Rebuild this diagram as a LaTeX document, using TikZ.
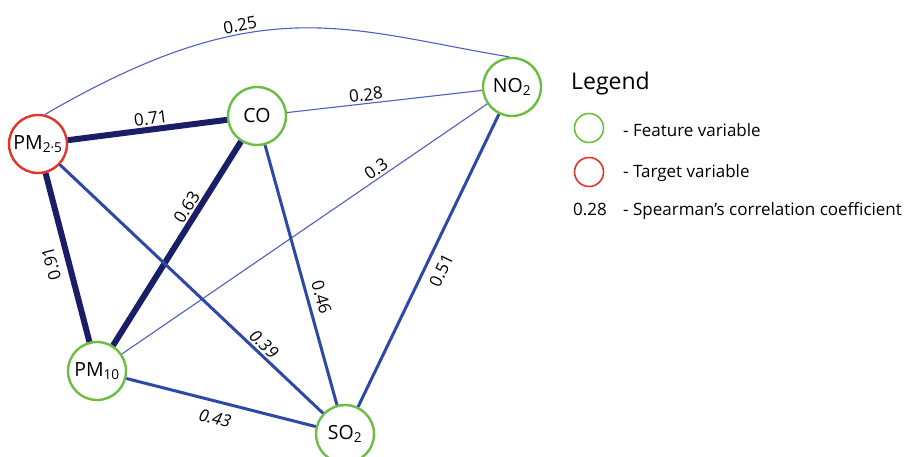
\documentclass[tikz,border=0pt]{standalone}
\usepackage{fontspec}
\setmainfont{Open Sans}
\definecolor{featgreen}{RGB}{108,190,66}
\definecolor{targred}{RGB}{226,52,42}
\definecolor{navyA}{RGB}{26,30,102}
\definecolor{blueB}{RGB}{46,72,168}
\definecolor{blueC}{RGB}{80,94,192}
\begin{document}
\begin{tikzpicture}[x=1pt,y=-1pt,
  var/.style={circle, draw, line width=2.4pt, minimum size=58pt, inner sep=0pt,
    font=\fontsize{19.5}{21}\selectfont},
  feat/.style={var, draw=featgreen},
  targ/.style={var, draw=targred},
  strong/.style={draw=navyA, line width=6pt},
  mid/.style={draw=blueB, line width=3pt},
  weak/.style={draw=blueC, line width=1.1pt},
  lbl/.style={font=\fontsize{17}{19}\selectfont, inner sep=2pt, sloped},
  legtxt/.style={font=\fontsize{17}{19}\selectfont, anchor=base west, inner sep=0pt},
  legcirc/.style={circle, line width=1.6pt, minimum size=29pt, inner sep=0pt}
]
\useasboundingbox (0,0) rectangle (904,457);

% variables
\node[targ] (pm25) at (38,144) {PM\textsubscript{2·5}};
\node[feat] (co)   at (257,116) {CO};
\node[feat] (no2)  at (512,87)  {NO\textsubscript{2}};
\node[feat] (pm10) at (97,371)  {PM\textsubscript{10}};
\node[feat] (so2)  at (345,434) {SO\textsubscript{2}};

% correlations
\draw[strong] (pm25) -- node[lbl, above, pos=0.53] {0.71} (co);
\draw[strong] (pm10) -- node[lbl, above=6pt, pos=0.49, allow upside down] {0.91} (pm25);
\draw[strong] (pm10) -- node[lbl, above, pos=0.65] {0.63} (co);
\draw[weak] (pm25.77) .. controls (262,-12) and (345,29.5) .. node[lbl, above, pos=0.37] {0.25} (no2.95);
\draw[weak] (co) -- node[lbl, above, pos=0.41] {0.28} (no2);
\draw[weak] (pm10) -- node[lbl, above, pos=0.71] {0.3} (no2);
\draw[mid] (pm25) -- node[lbl, above, pos=0.75] {\itshape 0.39} (so2);
\draw[mid] (pm10) -- node[lbl, below=7pt, pos=0.49] {\itshape 0.43} (so2);
\draw[mid] (co) -- node[lbl, above=4pt, pos=0.6] {0.46} (so2);
\draw[mid] (so2) -- node[lbl, below=6pt, pos=0.49] {0.51} (no2);

% legend
\node[font=\fontsize{23}{26}\selectfont, anchor=base west, inner sep=0pt] (legtitle) at (571,90) {Legend};
\node[legcirc, draw=featgreen] (legfeat) at (589,128) {};
\node[legtxt] (legfeattxt) at (623,136.5) {- Feature variable};
\node[legcirc, draw=targred] (legtarg) at (589,172) {};
\node[legtxt] (legtargtxt) at (623,178) {- Target variable};
\node[legtxt] (legnum) at (573,215) {0.28};
\node[legtxt] (legnumtxt) at (623,215) {- Spearman's correlation coefficient};
\end{tikzpicture}
\end{document}
